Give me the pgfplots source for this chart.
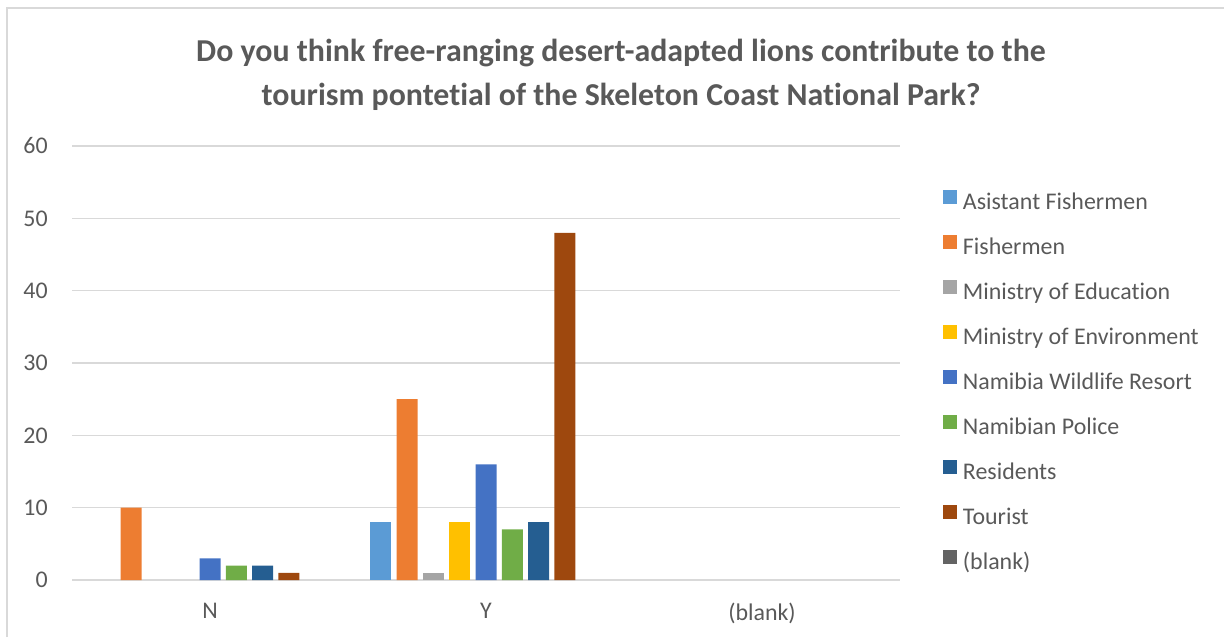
\documentclass[border=0pt]{standalone}
\usepackage{pgfplots}
\pgfplotsset{compat=1.18}
\usepackage{fontspec}
\setmainfont{Carlito}[Ligatures=NoCommon]
\definecolor{txt}{HTML}{595959}
\definecolor{gridc}{HTML}{D9D9D9}
\definecolor{cAF}{HTML}{5B9BD5}
\definecolor{cF}{HTML}{ED7D31}
\definecolor{cMEd}{HTML}{A5A5A5}
\definecolor{cMEn}{HTML}{FFC000}
\definecolor{cNWR}{HTML}{4472C4}
\definecolor{cPol}{HTML}{70AD47}
\definecolor{cRes}{HTML}{255E91}
\definecolor{cTou}{HTML}{9E480E}
\definecolor{cBl}{HTML}{636363}
\begin{document}
\begin{tikzpicture}[x=0.75bp,y=0.75bp]
\path[use as bounding box] (0,0) rectangle (1226,637);
\draw[gridc, line width=1.2bp] (7,0) -- (7,629) -- (1224,629);
\node[align=center, text=txt, font=\fontsize{24}{33}\selectfont\bfseries] at (621,562)
  {Do you think free-ranging desert-adapted lions contribute to the\\tourism pontetial of the Skeleton Coast National Park?};
\begin{axis}[
  at={(54bp,42.75bp)}, anchor=south west,
  scale only axis, width=621bp, height=325.5bp,
  ybar, bar width=15.75bp,
  xmin=-0.5, xmax=2.5, ymin=0, ymax=60,
  xtick={0,1,2}, xticklabels={N,Y,(blank)},
  ytick={0,10,...,60},
  ymajorgrids, grid style={gridc, line width=1bp},
  axis line style={draw=none},
  major tick length=0pt,
  tick label style={text=txt, font=\fontsize{18}{20}\selectfont},
  /pgf/number format/assume math mode=true,
  yticklabel style={inner sep=0pt, xshift=-18bp},
  xticklabel style={inner sep=0pt, yshift=-17bp},
  legend image code/.code={\fill[#1] (0bp,0bp) rectangle (10.5bp,10.5bp); \path (15bp,0bp);},
  legend cell align=left,
  legend style={at={(1.0519,0.8986)}, anchor=north west, draw=none, fill=none,
    inner sep=0pt, outer sep=0pt, text=txt, font=\fontsize{18}{20}\selectfont,
    row sep=15bp, nodes={inner sep=0pt, text height=12.5bp, text depth=4bp}},
  every axis plot/.append style={draw=none},
]
\addplot[fill=cAF, bar shift=-78.8bp] coordinates {(1,8)};
\addplot[fill=cF, bar shift=-59.1bp] coordinates {(0,10) (1,25)};
\addplot[fill=cMEd, bar shift=-39.4bp] coordinates {(1,1)};
\addplot[fill=cMEn, bar shift=-19.7bp] coordinates {(1,8)};
\addplot[fill=cNWR, bar shift=0bp] coordinates {(0,3) (1,16)};
\addplot[fill=cPol, bar shift=19.7bp] coordinates {(0,2) (1,7)};
\addplot[fill=cRes, bar shift=39.4bp] coordinates {(0,2) (1,8)};
\addplot[fill=cTou, bar shift=59.1bp] coordinates {(0,1) (1,48)};
\addlegendimage{fill=cBl, draw=none}
\legend{Asistant Fishermen,Fishermen,Ministry of Education,Ministry of Environment,Namibia Wildlife Resort,Namibian Police,Residents,Tourist,(blank)}
\end{axis}
\end{tikzpicture}
\end{document}
